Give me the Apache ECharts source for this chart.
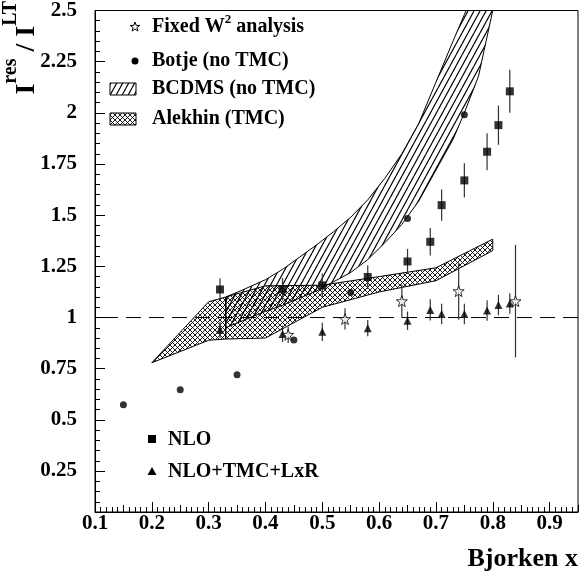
<!DOCTYPE html>
<html>
<head>
<meta charset="utf-8">
<script src="https://cdn.jsdelivr.net/npm/echarts@6.0.0/dist/echarts.min.js"></script>
<style>
  html, body { margin: 0; padding: 0; background: #fff; }
  #chart { width: 582px; height: 582px; }
</style>
</head>
<body>
<div id="chart"></div>
<script>
// ---------- axis ticks ----------
const xTickValues = [0.1, 0.2, 0.3, 0.4, 0.5, 0.6, 0.7, 0.8, 0.9];
const yTickValues = [0.25, 0.5, 0.75, 1, 1.25, 1.5, 1.75, 2, 2.25, 2.5];

// ---------- NLO ----------
const nloX   = [0.32, 0.43, 0.50, 0.58, 0.65, 0.69, 0.71, 0.75, 0.79, 0.81, 0.83];
const nloY   = [1.137, 1.138, 1.157, 1.198, 1.274, 1.37, 1.549, 1.67, 1.81, 1.94, 2.105];
const nloErr = [0.055, 0.055, 0.058, 0.058, 0.061, 0.067, 0.076, 0.084, 0.09, 0.096, 0.105];

// ---------- NLO+TMC+LxR ----------
const tmcX   = [0.32, 0.43, 0.50, 0.58, 0.65, 0.69, 0.71, 0.75, 0.79, 0.81, 0.83];
const tmcY   = [0.94, 0.92, 0.93, 0.948, 0.984, 1.037, 1.017, 1.017, 1.034, 1.061, 1.069];
const tmcErr = [0.04, 0.04, 0.045, 0.04, 0.045, 0.052, 0.05, 0.05, 0.05, 0.05, 0.05];

// ---------- Fixed W^2 analysis ----------
const fixedW2X   = [0.44, 0.54, 0.64, 0.74, 0.84];
const fixedW2Y   = [0.916, 0.993, 1.08, 1.129, 1.08];
const fixedW2Err = [0.04, 0.052, 0.082, 0.14, 0.275];

// ---------- Botje (no TMC) ----------
const botjeX = [0.15, 0.25, 0.35, 0.45, 0.55, 0.65, 0.75];
const botjeY = [0.574, 0.647, 0.72, 0.89, 1.122, 1.484, 1.991];

// ---------- BCDMS (no TMC) band ----------
const bcdmsX    = [0.33, 0.36, 0.40, 0.43, 0.46, 0.49, 0.52, 0.55, 0.58, 0.61, 0.64, 0.67, 0.70, 0.73, 0.75, 0.775, 0.80];
const bcdmsLow  = [0.95, 0.985, 1.03, 1.06, 1.095, 1.13, 1.175, 1.22, 1.283, 1.365, 1.455, 1.57, 1.72, 1.87, 2.0, 2.18, 2.5];
const bcdmsHigh = [1.10, 1.135, 1.185, 1.235, 1.295, 1.355, 1.42, 1.49, 1.575, 1.68, 1.80, 1.95, 2.15, 2.35, 2.48, 2.65, 2.9];

// ---------- Alekhin (TMC) band, drawn as two joined pieces ----------
const alekhinX    = [0.2, 0.3, 0.33, 0.4, 0.5, 0.6, 0.7, 0.8];
const alekhinLow  = [0.779, 0.889, 0.895, 0.90, 1.05, 1.125, 1.18, 1.327];
const alekhinHigh = [0.779, 1.077, 1.10, 1.155, 1.158, 1.20, 1.243, 1.383];
const alekhinPieces = [[0, 2], [2, 7]];

// ---------- reference level ----------
const unityX = [0.1, 0.95];
const unityLevel = 1;

const FONT = 'Liberation Serif';

// Hatch fill tiles
function makeHatch(w, h, cross, lw) {
  const c = document.createElement('canvas');
  c.width = w; c.height = h;
  const g = c.getContext('2d');
  g.strokeStyle = '#000';
  g.lineWidth = lw;
  g.beginPath();
  for (const dx of [-w, 0, w]) { g.moveTo(dx, h); g.lineTo(dx + w, 0); }
  if (cross) for (const dx of [-w, 0, w]) { g.moveTo(dx, 0); g.lineTo(dx + w, h); }
  g.stroke();
  return { image: c, repeat: 'repeat' };
}
const diagHatch = makeHatch(6, 11, false, 1.2);
const crossHatch = makeHatch(5, 5, true, 0.9);

function bandRenderer(xs, lo, hi, fill) {
  return function (params, api) {
    const a = api.value(0), b = api.value(1);
    const pts = [];
    for (let i = a; i <= b; i++) pts.push(api.coord([xs[i], hi[i]]));
    for (let i = b; i >= a; i--) pts.push(api.coord([xs[i], lo[i]]));
    return { type: 'polygon', shape: { points: pts },
             style: { fill: fill, stroke: '#000', lineWidth: 1 } };
  };
}

function errorBarRenderer(params, api) {
  const x = api.value(0), y = api.value(1), e = api.value(2);
  const p1 = api.coord([x, y - e]);
  const p2 = api.coord([x, y + e]);
  return { type: 'line', shape: { x1: p1[0], y1: p1[1], x2: p2[0], y2: p2[1] },
           style: { stroke: '#333', lineWidth: 1.2 } };
}

const zip2 = (xs, ys) => xs.map((x, i) => [x, ys[i]]);
const zip3 = (xs, ys, es) => xs.map((x, i) => [x, ys[i], es[i]]);

const STAR_PATH = 'path://M50,0 L61.8,33.8 L97.6,34.5 L69,56.2 L79.4,90.5 L50,70 L20.6,90.5 L31,56.2 L2.4,34.5 L38.2,33.8 Z';

function starPoints(cx, cy, r) {
  const pts = [];
  for (let k = 0; k < 10; k++) {
    const ang = -Math.PI / 2 + k * Math.PI / 5;
    const rr = k % 2 === 0 ? r : r * 0.4;
    pts.push([cx + rr * Math.cos(ang), cy + rr * Math.sin(ang)]);
  }
  return pts;
}

const labelFont = { fontFamily: FONT, fontWeight: 'bold', fontSize: 21, color: '#000' };
const fmt = v => String(+(+v).toFixed(2));

const chart = echarts.init(document.getElementById('chart'), null, { renderer: 'canvas' });

const LEG = 20;
const legendText = (x, y, text, rich) => ({
  type: 'text', x: x, y: y, silent: true,
  style: { text: text, fontFamily: FONT, fontWeight: 'bold', fontSize: LEG, fill: '#000',
           align: 'left', verticalAlign: 'middle', rich: rich || undefined }
});

chart.setOption({
  animation: false,
  backgroundColor: '#fff',
  grid: { left: 95, right: 4, top: 5, bottom: 70, show: true, borderColor: '#000', borderWidth: 1, backgroundColor: 'transparent' },
  xAxis: [
    {
      type: 'value', position: 'bottom', min: 0.1, max: 0.95, interval: 0.1,
      axisLine: { show: true, onZero: false, lineStyle: { color: '#000', width: 1 } },
      axisTick: { show: true, inside: true, length: 10, customValues: xTickValues, lineStyle: { color: '#000' } },
      axisLabel: { show: true, margin: 1, customValues: xTickValues, formatter: fmt, ...labelFont },
      splitLine: { show: false },
      name: 'Bjorken x', nameLocation: 'end', nameGap: 0,
      nameTextStyle: { fontFamily: FONT, fontWeight: 'bold', fontSize: 26, color: '#000',
                       align: 'right', verticalAlign: 'top', padding: [34, 0, 0, 0] }
    },
    {
      type: 'value', position: 'bottom', min: 0.1, max: 0.95, interval: 0.05,
      axisLine: { show: false, onZero: false },
      axisTick: { show: true, inside: true, length: 7, lineStyle: { color: '#000' } },
      axisLabel: { show: false }, splitLine: { show: false }
    },
    {
      type: 'value', position: 'bottom', min: 0.1, max: 0.95, interval: 0.01,
      axisLine: { show: false, onZero: false },
      axisTick: { show: true, inside: true, length: 5, lineStyle: { color: '#000' } },
      axisLabel: { show: false }, splitLine: { show: false }
    }
  ],
  yAxis: [
    {
      type: 'value', position: 'left', min: 0.05, max: 2.5, interval: 0.05,
      axisLine: { show: true, onZero: false, lineStyle: { color: '#000', width: 1 } },
      axisTick: { show: true, inside: true, length: 5, lineStyle: { color: '#000' } },
      axisLabel: { show: false }, splitLine: { show: false }
    },
    {
      type: 'value', position: 'left', min: 0.05, max: 2.5,
      axisLine: { show: false, onZero: false },
      axisTick: { show: true, inside: true, length: 10, customValues: yTickValues, lineStyle: { color: '#000' } },
      axisLabel: { show: true, margin: 18, customValues: yTickValues, formatter: fmt, ...labelFont },
      splitLine: { show: false }
    }
  ],
  series: [
    {
      type: 'custom', name: 'BCDMS (no TMC)', clip: true, z: 1, silent: true,
      renderItem: bandRenderer(bcdmsX, bcdmsLow, bcdmsHigh, diagHatch),
      data: [[0, bcdmsX.length - 1]]
    },
    {
      type: 'custom', name: 'Alekhin (TMC)', clip: true, z: 1, silent: true,
      renderItem: bandRenderer(alekhinX, alekhinLow, alekhinHigh, crossHatch),
      data: alekhinPieces
    },
    {
      type: 'line', name: 'unity', z: 2, silent: true, symbol: 'none',
      data: unityX.map(x => [x, unityLevel]),
      lineStyle: { color: '#000', width: 1, type: [15, 8], dashOffset: 15 }
    },
    { type: 'custom', z: 3, silent: true, renderItem: errorBarRenderer, data: zip3(nloX, nloY, nloErr) },
    { type: 'custom', z: 3, silent: true, renderItem: errorBarRenderer, data: zip3(tmcX, tmcY, tmcErr) },
    { type: 'custom', z: 3, silent: true, renderItem: errorBarRenderer, data: zip3(fixedW2X, fixedW2Y, fixedW2Err) },
    {
      type: 'scatter', name: 'NLO', z: 4, symbol: 'rect', symbolSize: 8,
      itemStyle: { color: '#000' }, data: zip2(nloX, nloY)
    },
    {
      type: 'scatter', name: 'NLO+TMC+LxR', z: 4, symbol: 'triangle', symbolSize: [8, 8],
      itemStyle: { color: '#000' }, data: zip2(tmcX, tmcY)
    },
    {
      type: 'scatter', name: 'Botje (no TMC)', z: 4, symbol: 'circle', symbolSize: 7,
      itemStyle: { color: '#000' }, data: zip2(botjeX, botjeY)
    },
    {
      type: 'scatter', name: 'Fixed W2 analysis', z: 5, symbol: STAR_PATH, symbolSize: 11,
      itemStyle: { color: '#fff', borderColor: '#000', borderWidth: 1 }, data: zip2(fixedW2X, fixedW2Y)
    }
  ],
  graphic: [
    // vertical axis title
    {
      type: 'text', x: 41, y: 1, rotation: Math.PI / 2, silent: true,
      style: {
        text: '{b|I}{s|res}{b| / I}{s|LT}',
        align: 'right', verticalAlign: 'bottom', fill: '#000',
        rich: {
          b: { fontFamily: FONT, fontWeight: 'bold', fontSize: 28, verticalAlign: 'bottom' },
          s: { fontFamily: FONT, fontWeight: 'bold', fontSize: 20, verticalAlign: 'top', padding: [0, 0, 20, 0] }
        }
      }
    },
    // upper legend
    { type: 'polygon', silent: true, shape: { points: starPoints(135, 27, 5) }, style: { fill: '#fff', stroke: '#000', lineWidth: 1 } },
    legendText(152, 25, '{m|Fixed W}{s|2}{m| analysis}', {
      m: { fontFamily: FONT, fontWeight: 'bold', fontSize: LEG, verticalAlign: 'bottom' },
      s: { fontFamily: FONT, fontWeight: 'bold', fontSize: 13, verticalAlign: 'top', padding: [0, 0, 11, 0] }
    }),
    { type: 'circle', silent: true, shape: { cx: 135, cy: 61, r: 3.5 }, style: { fill: '#000' } },
    legendText(152, 61, 'Botje (no TMC)'),
    { type: 'rect', silent: true, shape: { x: 110, y: 83, width: 26, height: 12 }, style: { fill: diagHatch, stroke: '#000', lineWidth: 1 } },
    legendText(152, 89, 'BCDMS (no TMC)'),
    { type: 'rect', silent: true, shape: { x: 110, y: 113, width: 26, height: 12 }, style: { fill: crossHatch, stroke: '#000', lineWidth: 1 } },
    legendText(152, 119, 'Alekhin (TMC)'),
    // lower legend
    { type: 'rect', silent: true, shape: { x: 148, y: 435, width: 8, height: 8 }, style: { fill: '#000' } },
    legendText(168, 440, 'NLO'),
    { type: 'polygon', silent: true, shape: { points: [[152, 467], [156.5, 475], [147.5, 475]] }, style: { fill: '#000' } },
    legendText(168, 472, 'NLO+TMC+LxR')
  ]
});
</script>
</body>
</html>
